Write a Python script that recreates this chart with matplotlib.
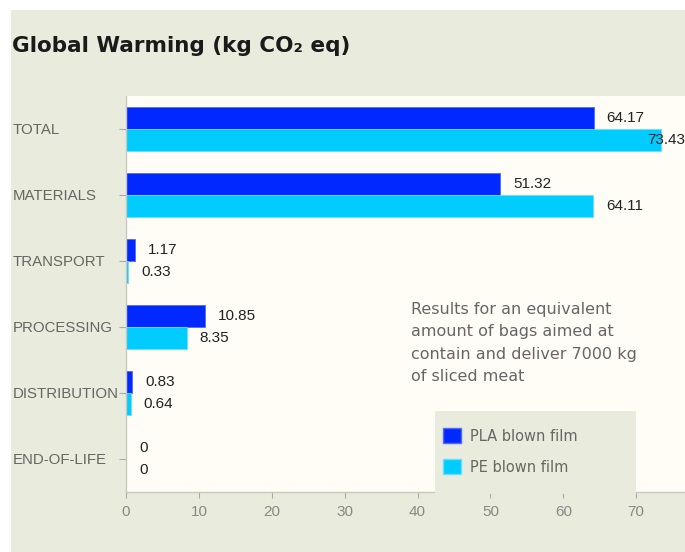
import matplotlib
matplotlib.use("Agg")
import matplotlib.pyplot as plt
from matplotlib.patches import Rectangle, Patch
import numpy as np

categories = ["TOTAL", "MATERIALS", "TRANSPORT", "PROCESSING", "DISTRIBUTION", "END-OF-LIFE"]
pla_values = [64.17, 51.32, 1.17, 10.85, 0.83, 0]
pe_values = [73.43, 64.11, 0.33, 8.35, 0.64, 0]
series_names = ["PLA blown film", "PE blown film"]
x_ticks = [0, 10, 20, 30, 40, 50, 60, 70]
title = "Global Warming (kg CO\u2082 eq)"
note = "Results for an equivalent\namount of bags aimed at\ncontain and deliver 7000 kg\nof sliced meat"

PLA_C = "#0028ff"
PE_C = "#00ccff"
BEIGE = "#e9ebdc"
PLOT_BG = "#fffdf6"
GRAY = "#666666"

W, H = 685, 552
fig = plt.figure(figsize=(W / 100, H / 100), dpi=100)
fig.patch.set_facecolor("white")
fig.patches.append(Rectangle((11 / W, 0), 1, 1 - 10 / H, transform=fig.transFigure,
                             facecolor=BEIGE, edgecolor="none", zorder=-10))

ax = fig.add_axes([126 / W, (H - 492) / H, 1 - 126 / W, (492 - 96) / H])
ax.set_facecolor(PLOT_BG)

y = np.arange(len(categories))
h = 0.335
ax.barh(y - h / 2, pla_values, height=h, color=PLA_C, edgecolor="#4d6bff", linewidth=0.6, zorder=2)
ax.barh(y + h / 2, pe_values, height=h, color=PE_C, edgecolor="#66e0ff", linewidth=0.6, zorder=2)

ax.set_xlim(0, 76.7)
ax.set_ylim(len(categories) - 0.5, -0.5)
ax.set_yticks(y)
ax.set_yticklabels(categories, fontsize=10.8, color=GRAY, family="Liberation Sans")
ax.set_xticks(x_ticks)
ax.set_xticklabels([str(t) for t in x_ticks], fontsize=11, color="#888888", family="Liberation Sans")
ax.tick_params(axis="y", length=5, color="#aaaaaa", pad=(126 - 5 - 14.5) * 0.72)
ax.tick_params(axis="x", length=4, color="#aaaaaa", pad=5)
for lab in ax.get_yticklabels():
    lab.set_horizontalalignment("left")

for s in ["top", "right"]:
    ax.spines[s].set_visible(False)
for s in ["left", "bottom"]:
    ax.spines[s].set_color("#c8c8c0")
    ax.spines[s].set_linewidth(1.0)

for vals, off in ((pla_values, -h / 2), (pe_values, h / 2)):
    for i, v in enumerate(vals):
        label = f"{v:.2f}" if v != 0 else "0"
        if v > 70:
            ax.text(1.0, i + off, label, transform=ax.get_yaxis_transform(), ha="right", va="center",
                    fontsize=11, color="#222222", family="Liberation Sans", zorder=4, clip_on=False)
        else:
            ax.annotate(label, (v, i + off), xytext=(13, 0), textcoords="offset pixels",
                        ha="left", va="center", fontsize=11, color="#222222", family="Liberation Sans", zorder=4)

fig.text(12 / W, 1 - 46 / H, title, fontsize=15.5, fontweight="bold", color="#1a1a1a",
         family="DejaVu Sans", va="center", ha="left")

fig.text(411 / W, 1 - 302 / H, note, fontsize=11.5, color=GRAY, family="DejaVu Sans",
         va="top", ha="left", linespacing=1.62)

# legend box
ax.add_patch(Rectangle((435 / W, (H - 494) / H), (636 - 435) / W, (494 - 411) / H,
                       transform=fig.transFigure, facecolor=BEIGE, edgecolor="none",
                       zorder=5, clip_on=False))
handles = [Patch(facecolor=PLA_C, edgecolor="#4d6bff"), Patch(facecolor=PE_C, edgecolor="#66e0ff")]
leg = ax.legend(handles, series_names, loc="upper left", bbox_to_anchor=(443 / W, 1 - 428 / H),
                bbox_transform=fig.transFigure, frameon=False,
                handlelength=1.25, handleheight=1.25, handletextpad=0.6, labelspacing=1.05,
                borderpad=0, borderaxespad=0, prop={"family": "DejaVu Sans", "size": 10.5})
for t in leg.get_texts():
    t.set_color(GRAY)
leg.set_zorder(6)

fig.savefig("out.png", dpi=100)
